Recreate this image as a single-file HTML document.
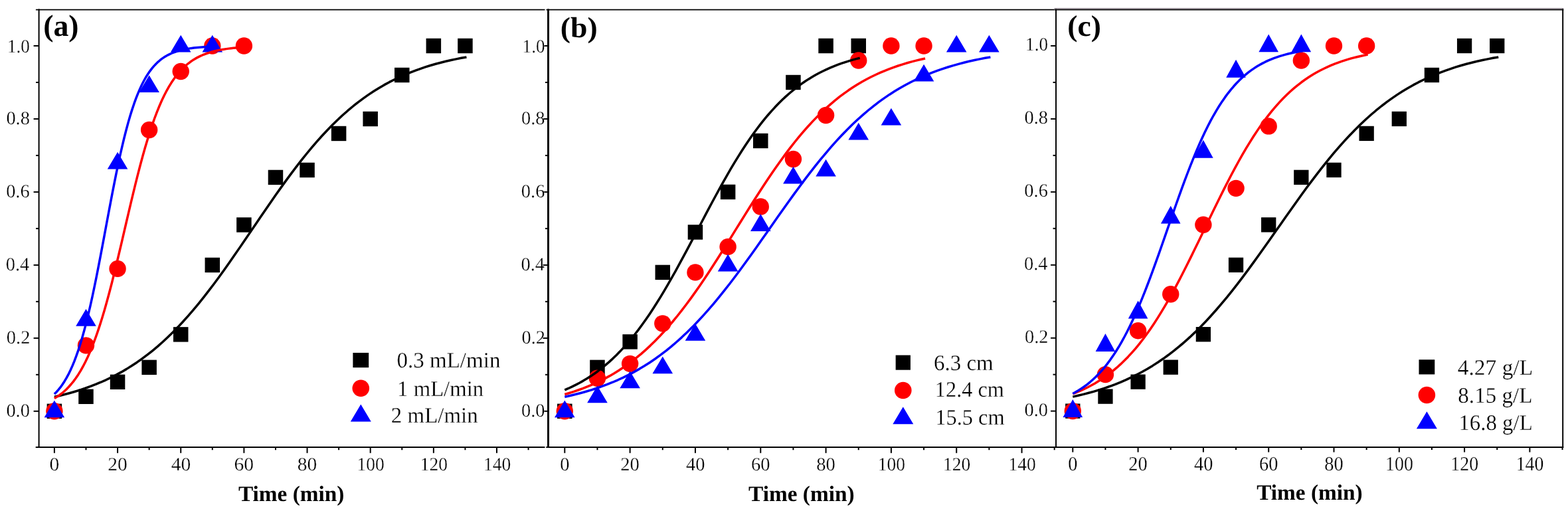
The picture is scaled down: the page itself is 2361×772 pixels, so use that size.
<!DOCTYPE html>
<html lang="en">
<head>
<meta charset="utf-8">
<title>Breakthrough curves</title>
<style>
html,body{margin:0;padding:0;background:#fff;}
body{width:2361px;height:772px;overflow:hidden;font-family:"Liberation Serif",serif;}
svg{display:block;}
svg text{text-rendering:geometricPrecision;}
svg text.r{stroke:#fff;stroke-width:0.28px;stroke-linejoin:round;}
</style>
</head>
<body>
<svg width="2361" height="772" viewBox="0 0 2361 772" font-family="'Liberation Serif', serif">
<rect width="2361" height="772" fill="#fff"/>
<g id="panel-a">
<rect x="70.65" y="607.6" width="22.5" height="22.4" fill="#000"/>
<rect x="118.23" y="585.61" width="22.5" height="22.4" fill="#000"/>
<rect x="165.81" y="563.62" width="22.5" height="22.4" fill="#000"/>
<rect x="213.39" y="541.62" width="22.5" height="22.4" fill="#000"/>
<rect x="260.97" y="492.14" width="22.5" height="22.4" fill="#000"/>
<rect x="308.55" y="387.68" width="22.5" height="22.4" fill="#000"/>
<rect x="356.13" y="327.2" width="22.5" height="22.4" fill="#000"/>
<rect x="403.71" y="255.73" width="22.5" height="22.4" fill="#000"/>
<rect x="451.29" y="244.73" width="22.5" height="22.4" fill="#000"/>
<rect x="498.87" y="189.75" width="22.5" height="22.4" fill="#000"/>
<rect x="546.45" y="167.76" width="22.5" height="22.4" fill="#000"/>
<rect x="594.03" y="101.78" width="22.5" height="22.4" fill="#000"/>
<rect x="641.61" y="57.8" width="22.5" height="22.4" fill="#000"/>
<rect x="689.19" y="57.8" width="22.5" height="22.4" fill="#000"/>
<circle cx="81.9" cy="618.8" r="12.7" fill="#f00"/>
<circle cx="129.48" cy="519.84" r="12.7" fill="#f00"/>
<circle cx="177.06" cy="404.38" r="12.7" fill="#f00"/>
<circle cx="224.64" cy="195.45" r="12.7" fill="#f00"/>
<circle cx="272.22" cy="107.49" r="12.7" fill="#f00"/>
<circle cx="319.8" cy="69" r="12.7" fill="#f00"/>
<circle cx="367.38" cy="69" r="12.7" fill="#f00"/>
<polygon points="81.9,602.5 97.2,628.3 66.6,628.3" fill="#00f"/>
<polygon points="129.48,465.05 144.78,490.85 114.18,490.85" fill="#00f"/>
<polygon points="177.06,228.64 192.36,254.44 161.76,254.44" fill="#00f"/>
<polygon points="224.64,113.18 239.94,138.98 209.34,138.98" fill="#00f"/>
<polygon points="272.22,52.7 287.52,78.5 256.92,78.5" fill="#00f"/>
<polygon points="319.8,52.7 335.1,78.5 304.5,78.5" fill="#00f"/>
<polyline points="81.9,597.29 89.66,595.5 97.41,593.57 105.17,591.5 112.93,589.26 120.68,586.84 128.44,584.25 136.2,581.45 143.95,578.45 151.71,575.23 159.47,571.78 167.22,568.08 174.98,564.12 182.74,559.89 190.49,555.37 198.25,550.55 206.01,545.42 213.76,539.97 221.52,534.19 229.28,528.07 237.03,521.59 244.79,514.76 252.55,507.56 260.31,500 268.06,492.08 275.82,483.79 283.58,475.14 291.33,466.15 299.09,456.81 306.85,447.15 314.6,437.19 322.36,426.94 330.12,416.42 337.87,405.68 345.63,394.73 353.39,383.62 361.14,372.37 368.9,361.02 376.66,349.61 384.41,338.19 392.17,326.78 399.93,315.43 407.68,304.18 415.44,293.07 423.2,282.12 430.95,271.37 438.71,260.86 446.47,250.61 454.22,240.65 461.98,230.99 469.74,221.65 477.49,212.66 485.25,204.01 493.01,195.72 500.76,187.8 508.52,180.23 516.28,173.04 524.03,166.21 531.79,159.73 539.55,153.61 547.3,147.82 555.06,142.38 562.82,137.25 570.58,132.43 578.33,127.91 586.09,123.68 593.85,119.72 601.6,116.02 609.36,112.57 617.12,109.35 624.87,106.35 632.63,103.55 640.39,100.96 648.14,98.54 655.9,96.3 663.66,94.23 671.41,92.3 679.17,90.51 686.93,88.86 694.68,87.33 702.44,85.91" fill="none" stroke="#000" stroke-width="3.5" stroke-linejoin="round" stroke-linecap="butt"/>
<polyline points="81.9,599.56 85.49,597.36 89.09,594.93 92.68,592.23 96.27,589.24 99.87,585.93 103.46,582.29 107.05,578.27 110.65,573.84 114.24,568.98 117.84,563.66 121.43,557.83 125.02,551.47 128.62,544.55 132.21,537.04 135.8,528.91 139.4,520.14 142.99,510.72 146.58,500.63 150.18,489.88 153.77,478.47 157.36,466.41 160.96,453.74 164.55,440.48 168.14,426.7 171.74,412.43 175.33,397.77 178.92,382.77 182.52,367.54 186.11,352.16 189.7,336.73 193.3,321.34 196.89,306.09 200.49,291.08 204.08,276.39 207.67,262.1 211.27,248.27 214.86,234.98 218.45,222.26 222.05,210.16 225.64,198.7 229.23,187.9 232.83,177.77 236.42,168.3 240.01,159.49 243.61,151.32 247.2,143.76 250.79,136.8 254.39,130.4 257.98,124.54 261.57,119.18 265.17,114.28 268.76,109.83 272.36,105.78 275.95,102.11 279.54,98.79 283.14,95.78 286.73,93.06 290.32,90.6 293.92,88.39 297.51,86.39 301.1,84.6 304.7,82.98 308.29,81.53 311.88,80.23 315.48,79.06 319.07,78.01 322.66,77.06 326.26,76.22 329.85,75.46 333.44,74.78 337.04,74.17 340.63,73.63 344.23,73.14 347.82,72.7 351.41,72.31 355.01,71.96 358.6,71.65 362.19,71.37 365.79,71.12 369.38,70.89" fill="none" stroke="#f00" stroke-width="3.5" stroke-linejoin="round" stroke-linecap="butt"/>
<polyline points="81.9,593.05 84.9,590.02 87.9,586.65 90.9,582.92 93.9,578.79 96.89,574.22 99.89,569.19 102.89,563.65 105.89,557.56 108.89,550.9 111.89,543.62 114.89,535.7 117.89,527.1 120.88,517.8 123.88,507.8 126.88,497.06 129.88,485.61 132.88,473.45 135.88,460.59 138.88,447.08 141.88,432.97 144.87,418.31 147.87,403.18 150.87,387.66 153.87,371.85 156.87,355.86 159.87,339.78 162.87,323.73 165.87,307.81 168.86,292.14 171.86,276.81 174.86,261.91 177.86,247.52 180.86,233.71 183.86,220.54 186.86,208.03 189.86,196.23 192.85,185.14 195.85,174.78 198.85,165.14 201.85,156.21 204.85,147.96 207.85,140.37 210.85,133.41 213.84,127.05 216.84,121.25 219.84,115.97 222.84,111.18 225.84,106.84 228.84,102.92 231.84,99.38 234.84,96.19 237.83,93.32 240.83,90.74 243.83,88.42 246.83,86.35 249.83,84.48 252.83,82.82 255.83,81.33 258.83,79.99 261.82,78.8 264.82,77.73 267.82,76.78 270.82,75.93 273.82,75.18 276.82,74.5 279.82,73.9 282.82,73.36 285.81,72.88 288.81,72.46 291.81,72.08 294.81,71.74 297.81,71.44 300.81,71.17 303.81,70.93 306.81,70.72 309.81,70.53 312.8,70.36 315.8,70.21 318.8,70.08 321.8,69.96" fill="none" stroke="#00f" stroke-width="3.5" stroke-linejoin="round" stroke-linecap="butt"/>
<g stroke="#000" stroke-width="2.0" fill="none"><line x1="58.6" y1="13.5" x2="58.6" y2="674" stroke-width="2.0"/><line x1="53.7" y1="673" x2="820.5" y2="673"/><line x1="53.9" y1="14.5" x2="820.5" y2="14.5" stroke-width="1.75"/><line x1="81.9" y1="673" x2="81.9" y2="681.8"/><line x1="129.48" y1="673" x2="129.48" y2="677.2"/><line x1="177.06" y1="673" x2="177.06" y2="681.8"/><line x1="224.64" y1="673" x2="224.64" y2="677.2"/><line x1="272.22" y1="673" x2="272.22" y2="681.8"/><line x1="319.8" y1="673" x2="319.8" y2="677.2"/><line x1="367.38" y1="673" x2="367.38" y2="681.8"/><line x1="414.96" y1="673" x2="414.96" y2="677.2"/><line x1="462.54" y1="673" x2="462.54" y2="681.8"/><line x1="510.12" y1="673" x2="510.12" y2="677.2"/><line x1="557.7" y1="673" x2="557.7" y2="681.8"/><line x1="605.28" y1="673" x2="605.28" y2="677.2"/><line x1="652.86" y1="673" x2="652.86" y2="681.8"/><line x1="700.44" y1="673" x2="700.44" y2="677.2"/><line x1="748.02" y1="673" x2="748.02" y2="681.8"/><line x1="795.6" y1="673" x2="795.6" y2="677.2"/><line x1="50.6" y1="618.8" x2="58.6" y2="618.8"/><line x1="54.1" y1="563.82" x2="58.6" y2="563.82"/><line x1="50.6" y1="508.84" x2="58.6" y2="508.84"/><line x1="54.1" y1="453.86" x2="58.6" y2="453.86"/><line x1="50.6" y1="398.88" x2="58.6" y2="398.88"/><line x1="54.1" y1="343.9" x2="58.6" y2="343.9"/><line x1="50.6" y1="288.92" x2="58.6" y2="288.92"/><line x1="54.1" y1="233.94" x2="58.6" y2="233.94"/><line x1="50.6" y1="178.96" x2="58.6" y2="178.96"/><line x1="54.1" y1="123.98" x2="58.6" y2="123.98"/><line x1="50.6" y1="69" x2="58.6" y2="69"/></g>
<g fill="#000"><text transform="translate(74.52,707.9) scale(1.0400,1)" font-size="28.4" class="r">0</text><text transform="translate(162.21,707.9) scale(1.0400,1)" font-size="28.4" class="r">20</text><text transform="translate(257.73,707.9) scale(1.0400,1)" font-size="28.4" class="r">40</text><text transform="translate(352.54,707.9) scale(1.0400,1)" font-size="28.4" class="r">60</text><text transform="translate(447.77,707.9) scale(1.0400,1)" font-size="28.4" class="r">80</text><text transform="translate(537.58,707.9) scale(0.9687,1)" font-size="28.4" class="r">100</text><text transform="translate(632.74,707.9) scale(0.9687,1)" font-size="28.4" class="r">120</text><text transform="translate(727.9,707.9) scale(0.9687,1)" font-size="28.4" class="r">140</text><text x="9.38" y="627" font-size="28.4" class="r">0.0</text><text x="9.87" y="517.04" font-size="28.4" class="r">0.2</text><text x="8.74" y="407.08" font-size="28.4" class="r">0.4</text><text x="9.15" y="297.12" font-size="28.4" class="r">0.6</text><text x="9.38" y="187.16" font-size="28.4" class="r">0.8</text><text transform="translate(10.92,78.7) scale(0.9554,1)" font-size="28.4" class="r">1.0</text></g>
<text transform="translate(65.19,54.3) scale(1.0048,1)" font-size="45.6" font-weight="bold">(a)</text>
<text transform="translate(358.98,753.6) scale(1.0097,1)" font-size="33" font-weight="bold">Time (min)</text>
<rect x="531.4" y="530.9" width="23.8" height="22.2" fill="#000"/>
<text transform="translate(597.44,553.4) scale(0.9954,1)" font-size="33.2" class="r">0.3 mL/min</text>
<circle cx="543.3" cy="584.2" r="12.8" fill="#f00"/>
<text transform="translate(598.12,595.8) scale(0.9863,1)" font-size="33.2" class="r">1 mL/min</text>
<polygon points="543.3,608.6 558.8,634.6 527.8,634.6" fill="#00f"/>
<text transform="translate(588.85,636) scale(0.9922,1)" font-size="33.2" class="r">2 mL/min</text>
</g>
<g id="panel-b">
<rect x="839.05" y="607.6" width="22.5" height="22.4" fill="#000"/>
<rect x="888.21" y="541.62" width="22.5" height="22.4" fill="#000"/>
<rect x="937.37" y="503.14" width="22.5" height="22.4" fill="#000"/>
<rect x="986.53" y="398.68" width="22.5" height="22.4" fill="#000"/>
<rect x="1035.69" y="338.2" width="22.5" height="22.4" fill="#000"/>
<rect x="1084.85" y="277.72" width="22.5" height="22.4" fill="#000"/>
<rect x="1134.01" y="200.75" width="22.5" height="22.4" fill="#000"/>
<rect x="1183.17" y="112.78" width="22.5" height="22.4" fill="#000"/>
<rect x="1232.33" y="57.8" width="22.5" height="22.4" fill="#000"/>
<rect x="1281.49" y="57.8" width="22.5" height="22.4" fill="#000"/>
<circle cx="850.3" cy="618.8" r="12.7" fill="#f00"/>
<circle cx="899.46" cy="569.32" r="12.7" fill="#f00"/>
<circle cx="948.62" cy="547.33" r="12.7" fill="#f00"/>
<circle cx="997.78" cy="486.85" r="12.7" fill="#f00"/>
<circle cx="1046.94" cy="409.88" r="12.7" fill="#f00"/>
<circle cx="1096.1" cy="371.39" r="12.7" fill="#f00"/>
<circle cx="1145.26" cy="310.91" r="12.7" fill="#f00"/>
<circle cx="1194.42" cy="239.44" r="12.7" fill="#f00"/>
<circle cx="1243.58" cy="173.46" r="12.7" fill="#f00"/>
<circle cx="1292.74" cy="90.99" r="12.7" fill="#f00"/>
<circle cx="1341.9" cy="69" r="12.7" fill="#f00"/>
<circle cx="1391.06" cy="69" r="12.7" fill="#f00"/>
<polygon points="850.3,602.5 865.6,628.3 835,628.3" fill="#00f"/>
<polygon points="899.46,580.51 914.76,606.31 884.16,606.31" fill="#00f"/>
<polygon points="948.62,558.52 963.92,584.32 933.32,584.32" fill="#00f"/>
<polygon points="997.78,536.52 1013.08,562.32 982.48,562.32" fill="#00f"/>
<polygon points="1046.94,487.04 1062.24,512.84 1031.64,512.84" fill="#00f"/>
<polygon points="1096.1,382.58 1111.4,408.38 1080.8,408.38" fill="#00f"/>
<polygon points="1145.26,322.1 1160.56,347.9 1129.96,347.9" fill="#00f"/>
<polygon points="1194.42,250.63 1209.72,276.43 1179.12,276.43" fill="#00f"/>
<polygon points="1243.58,239.63 1258.88,265.43 1228.28,265.43" fill="#00f"/>
<polygon points="1292.74,184.65 1308.04,210.45 1277.44,210.45" fill="#00f"/>
<polygon points="1341.9,162.66 1357.2,188.46 1326.6,188.46" fill="#00f"/>
<polygon points="1391.06,96.68 1406.36,122.48 1375.76,122.48" fill="#00f"/>
<polygon points="1440.22,52.7 1455.52,78.5 1424.92,78.5" fill="#00f"/>
<polygon points="1489.38,52.7 1504.68,78.5 1474.08,78.5" fill="#00f"/>
<polyline points="850.3,586.86 855.86,584.47 861.41,581.91 866.97,579.17 872.52,576.24 878.08,573.12 883.63,569.79 889.19,566.25 894.74,562.47 900.3,558.46 905.86,554.2 911.41,549.69 916.97,544.9 922.52,539.84 928.08,534.49 933.63,528.85 939.19,522.91 944.74,516.66 950.3,510.11 955.85,503.24 961.41,496.06 966.97,488.56 972.52,480.76 978.08,472.65 983.63,464.25 989.19,455.56 994.74,446.59 1000.3,437.36 1005.85,427.88 1011.41,418.18 1016.96,408.28 1022.52,398.2 1028.08,387.96 1033.63,377.59 1039.19,367.13 1044.74,356.6 1050.3,346.03 1055.85,335.45 1061.41,324.9 1066.96,314.41 1072.52,304 1078.08,293.71 1083.63,283.56 1089.19,273.58 1094.74,263.79 1100.3,254.23 1105.85,244.9 1111.41,235.82 1116.96,227.01 1122.52,218.49 1128.08,210.26 1133.63,202.34 1139.19,194.72 1144.74,187.41 1150.3,180.42 1155.85,173.74 1161.41,167.37 1166.96,161.31 1172.52,155.55 1178.07,150.08 1183.63,144.9 1189.19,140.01 1194.74,135.38 1200.3,131.02 1205.85,126.91 1211.41,123.04 1216.96,119.41 1222.52,115.99 1228.07,112.79 1233.63,109.79 1239.18,106.97 1244.74,104.34 1250.3,101.88 1255.85,99.58 1261.41,97.43 1266.96,95.43 1272.52,93.56 1278.07,91.81 1283.63,90.19 1289.18,88.68 1294.74,87.27" fill="none" stroke="#000" stroke-width="3.5" stroke-linejoin="round" stroke-linecap="butt"/>
<polyline points="850.3,593.46 857.08,591.47 863.87,589.33 870.65,587.03 877.44,584.57 884.22,581.92 891.01,579.09 897.79,576.06 904.58,572.82 911.36,569.36 918.14,565.66 924.93,561.72 931.71,557.53 938.5,553.07 945.28,548.32 952.07,543.29 958.85,537.96 965.64,532.33 972.42,526.38 979.21,520.1 985.99,513.5 992.77,506.57 999.56,499.3 1006.34,491.7 1013.13,483.76 1019.91,475.5 1026.7,466.92 1033.48,458.03 1040.27,448.84 1047.05,439.37 1053.84,429.63 1060.62,419.65 1067.4,409.45 1074.19,399.05 1080.97,388.48 1087.76,377.78 1094.54,366.97 1101.33,356.09 1108.11,345.17 1114.9,334.25 1121.68,323.36 1128.46,312.53 1135.25,301.8 1142.03,291.2 1148.82,280.76 1155.6,270.51 1162.39,260.48 1169.17,250.68 1175.96,241.14 1182.74,231.89 1189.53,222.92 1196.31,214.27 1203.09,205.93 1209.88,197.92 1216.66,190.24 1223.45,182.9 1230.23,175.89 1237.02,169.21 1243.8,162.86 1250.59,156.83 1257.37,151.12 1264.15,145.72 1270.94,140.62 1277.72,135.82 1284.51,131.29 1291.29,127.03 1298.08,123.03 1304.86,119.28 1311.65,115.77 1318.43,112.47 1325.22,109.4 1332,106.52 1338.78,103.83 1345.57,101.33 1352.35,98.99 1359.14,96.82 1365.92,94.79 1372.71,92.91 1379.49,91.15 1386.28,89.52 1393.06,88.01" fill="none" stroke="#f00" stroke-width="3.5" stroke-linejoin="round" stroke-linecap="butt"/>
<polyline points="850.3,597.29 858.31,595.5 866.33,593.57 874.34,591.5 882.35,589.26 890.37,586.84 898.38,584.25 906.39,581.46 914.41,578.46 922.42,575.24 930.43,571.78 938.45,568.08 946.46,564.12 954.48,559.89 962.49,555.37 970.5,550.56 978.52,545.43 986.53,539.98 994.54,534.2 1002.56,528.08 1010.57,521.61 1018.58,514.77 1026.6,507.58 1034.61,500.02 1042.62,492.1 1050.64,483.81 1058.65,475.17 1066.66,466.17 1074.68,456.84 1082.69,447.18 1090.7,437.22 1098.72,426.97 1106.73,416.46 1114.75,405.72 1122.76,394.77 1130.77,383.66 1138.79,372.41 1146.8,361.06 1154.81,349.66 1162.83,338.23 1170.84,326.83 1178.85,315.48 1186.87,304.23 1194.88,293.11 1202.89,282.17 1210.91,271.42 1218.92,260.91 1226.93,250.66 1234.95,240.7 1242.96,231.04 1250.97,221.7 1258.99,212.7 1267,204.05 1275.02,195.76 1283.03,187.84 1291.04,180.28 1299.06,173.08 1307.07,166.25 1315.08,159.77 1323.1,153.64 1331.11,147.86 1339.12,142.41 1347.14,137.28 1355.15,132.46 1363.16,127.94 1371.18,123.71 1379.19,119.75 1387.2,116.04 1395.22,112.59 1403.23,109.37 1411.24,106.37 1419.26,103.57 1427.27,100.98 1435.29,98.56 1443.3,96.32 1451.31,94.24 1459.33,92.31 1467.34,90.53 1475.35,88.87 1483.37,87.34 1491.38,85.92" fill="none" stroke="#00f" stroke-width="3.5" stroke-linejoin="round" stroke-linecap="butt"/>
<g stroke="#000" stroke-width="2.0" fill="none"><line x1="825.5" y1="13.5" x2="825.5" y2="674" stroke-width="3.0"/><line x1="822.3" y1="673" x2="1588" y2="673"/><line x1="822.5" y1="14.5" x2="1587.5" y2="14.5" stroke-width="1.75"/><line x1="850.3" y1="673" x2="850.3" y2="681.8"/><line x1="899.46" y1="673" x2="899.46" y2="677.2"/><line x1="948.62" y1="673" x2="948.62" y2="681.8"/><line x1="997.78" y1="673" x2="997.78" y2="677.2"/><line x1="1046.94" y1="673" x2="1046.94" y2="681.8"/><line x1="1096.1" y1="673" x2="1096.1" y2="677.2"/><line x1="1145.26" y1="673" x2="1145.26" y2="681.8"/><line x1="1194.42" y1="673" x2="1194.42" y2="677.2"/><line x1="1243.58" y1="673" x2="1243.58" y2="681.8"/><line x1="1292.74" y1="673" x2="1292.74" y2="677.2"/><line x1="1341.9" y1="673" x2="1341.9" y2="681.8"/><line x1="1391.06" y1="673" x2="1391.06" y2="677.2"/><line x1="1440.22" y1="673" x2="1440.22" y2="681.8"/><line x1="1489.38" y1="673" x2="1489.38" y2="677.2"/><line x1="1538.54" y1="673" x2="1538.54" y2="681.8"/><line x1="1587.7" y1="673" x2="1587.7" y2="677.2"/><line x1="817.5" y1="618.8" x2="825.5" y2="618.8"/><line x1="821" y1="563.82" x2="825.5" y2="563.82"/><line x1="817.5" y1="508.84" x2="825.5" y2="508.84"/><line x1="821" y1="453.86" x2="825.5" y2="453.86"/><line x1="817.5" y1="398.88" x2="825.5" y2="398.88"/><line x1="821" y1="343.9" x2="825.5" y2="343.9"/><line x1="817.5" y1="288.92" x2="825.5" y2="288.92"/><line x1="821" y1="233.94" x2="825.5" y2="233.94"/><line x1="817.5" y1="178.96" x2="825.5" y2="178.96"/><line x1="821" y1="123.98" x2="825.5" y2="123.98"/><line x1="817.5" y1="69" x2="825.5" y2="69"/></g>
<g fill="#000"><text transform="translate(843.16,707.9) scale(1.0050,1)" font-size="28.4" class="r">0</text><text transform="translate(934.27,707.9) scale(1.0050,1)" font-size="28.4" class="r">20</text><text transform="translate(1032.93,707.9) scale(1.0050,1)" font-size="28.4" class="r">40</text><text transform="translate(1130.92,707.9) scale(1.0050,1)" font-size="28.4" class="r">60</text><text transform="translate(1229.31,707.9) scale(1.0050,1)" font-size="28.4" class="r">80</text><text transform="translate(1321.78,707.9) scale(0.9687,1)" font-size="28.4" class="r">100</text><text transform="translate(1420.1,707.9) scale(0.9687,1)" font-size="28.4" class="r">120</text><text transform="translate(1518.42,707.9) scale(0.9687,1)" font-size="28.4" class="r">140</text><text x="785.08" y="626.7" font-size="28.4" class="r">0.0</text><text x="785.57" y="516.74" font-size="28.4" class="r">0.2</text><text x="784.44" y="406.78" font-size="28.4" class="r">0.4</text><text x="784.85" y="296.82" font-size="28.4" class="r">0.6</text><text x="785.08" y="186.86" font-size="28.4" class="r">0.8</text><text transform="translate(786.62,78.7) scale(0.9554,1)" font-size="28.4" class="r">1.0</text></g>
<text transform="translate(843.79,55.8) scale(1.0474,1)" font-size="43.6" font-weight="bold">(b)</text>
<text transform="translate(1127.08,753.6) scale(1.0097,1)" font-size="33" font-weight="bold">Time (min)</text>
<rect x="1348.65" y="534.5" width="22.3" height="22.2" fill="#000"/>
<text transform="translate(1405.98,556.6) scale(0.9942,1)" font-size="33.2" class="r">6.3 cm</text>
<circle cx="1359.8" cy="587.5" r="12.8" fill="#f00"/>
<text transform="translate(1407.86,597.4) scale(0.9727,1)" font-size="33.2" class="r">12.4 cm</text>
<polygon points="1359.8,612.3 1375.3,638.3 1344.3,638.3" fill="#00f"/>
<text transform="translate(1408.25,639.2) scale(0.9766,1)" font-size="33.2" class="r">15.5 cm</text>
</g>
<g id="panel-c">
<rect x="1604.15" y="607.45" width="22.3" height="22.3" fill="#000"/>
<rect x="1653.3" y="585.47" width="22.3" height="22.3" fill="#000"/>
<rect x="1702.45" y="563.48" width="22.3" height="22.3" fill="#000"/>
<rect x="1751.6" y="541.5" width="22.3" height="22.3" fill="#000"/>
<rect x="1800.75" y="492.03" width="22.3" height="22.3" fill="#000"/>
<rect x="1849.9" y="387.61" width="22.3" height="22.3" fill="#000"/>
<rect x="1899.05" y="327.15" width="22.3" height="22.3" fill="#000"/>
<rect x="1948.2" y="255.71" width="22.3" height="22.3" fill="#000"/>
<rect x="1997.35" y="244.71" width="22.3" height="22.3" fill="#000"/>
<rect x="2046.5" y="189.75" width="22.3" height="22.3" fill="#000"/>
<rect x="2095.65" y="167.77" width="22.3" height="22.3" fill="#000"/>
<rect x="2144.8" y="101.82" width="22.3" height="22.3" fill="#000"/>
<rect x="2193.95" y="57.85" width="22.3" height="22.3" fill="#000"/>
<rect x="2243.1" y="57.85" width="22.3" height="22.3" fill="#000"/>
<circle cx="1615.3" cy="618.6" r="12.7" fill="#f00"/>
<circle cx="1664.45" cy="563.64" r="12.7" fill="#f00"/>
<circle cx="1713.6" cy="497.69" r="12.7" fill="#f00"/>
<circle cx="1762.75" cy="442.73" r="12.7" fill="#f00"/>
<circle cx="1811.9" cy="338.3" r="12.7" fill="#f00"/>
<circle cx="1861.05" cy="283.34" r="12.7" fill="#f00"/>
<circle cx="1910.2" cy="189.91" r="12.7" fill="#f00"/>
<circle cx="1959.35" cy="90.98" r="12.7" fill="#f00"/>
<circle cx="2008.5" cy="69" r="12.7" fill="#f00"/>
<circle cx="2057.65" cy="69" r="12.7" fill="#f00"/>
<polygon points="1615.3,601 1630.1,627.9 1600.5,627.9" fill="#00f"/>
<polygon points="1664.45,502.07 1679.25,528.97 1649.65,528.97" fill="#00f"/>
<polygon points="1713.6,452.61 1728.4,479.51 1698.8,479.51" fill="#00f"/>
<polygon points="1762.75,309.71 1777.55,336.61 1747.95,336.61" fill="#00f"/>
<polygon points="1811.9,210.78 1826.7,237.68 1797.1,237.68" fill="#00f"/>
<polygon points="1861.05,89.87 1875.85,116.77 1846.25,116.77" fill="#00f"/>
<polygon points="1910.2,51.4 1925,78.3 1895.4,78.3" fill="#00f"/>
<polygon points="1959.35,51.4 1974.15,78.3 1944.55,78.3" fill="#00f"/>
<polyline points="1615.3,597.1 1623.31,595.31 1631.32,593.38 1639.34,591.31 1647.35,589.07 1655.36,586.66 1663.37,584.06 1671.38,581.27 1679.39,578.27 1687.41,575.05 1695.42,571.6 1703.43,567.9 1711.44,563.94 1719.45,559.71 1727.47,555.2 1735.48,550.38 1743.49,545.26 1751.5,539.81 1759.51,534.03 1767.53,527.91 1775.54,521.44 1783.55,514.61 1791.56,507.42 1799.57,499.87 1807.59,491.94 1815.6,483.66 1823.61,475.02 1831.62,466.03 1839.63,456.7 1847.64,447.04 1855.66,437.08 1863.67,426.84 1871.68,416.33 1879.69,405.59 1887.7,394.65 1895.72,383.54 1903.73,372.3 1911.74,360.96 1919.75,349.56 1927.76,338.13 1935.77,326.73 1943.79,315.39 1951.8,304.14 1959.81,293.03 1967.82,282.09 1975.83,271.35 1983.85,260.84 1991.86,250.6 1999.87,240.63 2007.88,230.98 2015.89,221.64 2023.91,212.65 2031.92,204.01 2039.93,195.72 2047.94,187.79 2055.95,180.24 2063.97,173.04 2071.98,166.21 2079.99,159.74 2088,153.61 2096.01,147.83 2104.02,142.38 2112.04,137.26 2120.05,132.44 2128.06,127.92 2136.07,123.69 2144.08,119.73 2152.1,116.03 2160.11,112.57 2168.12,109.35 2176.13,106.35 2184.14,103.56 2192.15,100.96 2200.17,98.55 2208.18,96.31 2216.19,94.23 2224.2,92.3 2232.21,90.52 2240.23,88.86 2248.24,87.33 2256.25,85.91" fill="none" stroke="#000" stroke-width="3.5" stroke-linejoin="round" stroke-linecap="butt"/>
<polyline points="1615.3,592.66 1620.85,590.5 1626.41,588.18 1631.96,585.67 1637.52,582.98 1643.07,580.07 1648.63,576.95 1654.18,573.61 1659.73,570.01 1665.29,566.16 1670.84,562.04 1676.4,557.64 1681.95,552.94 1687.51,547.92 1693.06,542.59 1698.62,536.92 1704.17,530.91 1709.72,524.54 1715.28,517.82 1720.83,510.72 1726.39,503.25 1731.94,495.42 1737.5,487.2 1743.05,478.63 1748.61,469.69 1754.16,460.4 1759.71,450.77 1765.27,440.83 1770.82,430.58 1776.38,420.06 1781.93,409.3 1787.49,398.31 1793.04,387.14 1798.59,375.82 1804.15,364.4 1809.7,352.89 1815.26,341.36 1820.81,329.84 1826.37,318.36 1831.92,306.97 1837.47,295.71 1843.03,284.62 1848.58,273.72 1854.14,263.05 1859.69,252.65 1865.25,242.53 1870.8,232.72 1876.36,223.23 1881.91,214.09 1887.46,205.3 1893.02,196.88 1898.57,188.82 1904.13,181.14 1909.68,173.83 1915.24,166.9 1920.79,160.32 1926.34,154.11 1931.9,148.24 1937.45,142.71 1943.01,137.52 1948.56,132.64 1954.12,128.06 1959.67,123.78 1965.23,119.78 1970.78,116.04 1976.33,112.55 1981.89,109.3 1987.44,106.27 1993,103.46 1998.55,100.85 2004.11,98.42 2009.66,96.17 2015.21,94.08 2020.77,92.14 2026.32,90.35 2031.88,88.69 2037.43,87.16 2042.99,85.74 2048.54,84.43 2054.1,83.22 2059.65,82.1" fill="none" stroke="#f00" stroke-width="3.5" stroke-linejoin="round" stroke-linecap="butt"/>
<polyline points="1615.3,592.44 1619.63,590.08 1623.95,587.53 1628.28,584.76 1632.6,581.77 1636.93,578.53 1641.25,575.03 1645.58,571.25 1649.9,567.17 1654.23,562.79 1658.56,558.08 1662.88,553.02 1667.21,547.6 1671.53,541.81 1675.86,535.62 1680.18,529.03 1684.51,522.02 1688.84,514.59 1693.16,506.73 1697.49,498.44 1701.81,489.71 1706.14,480.56 1710.46,470.98 1714.79,460.99 1719.12,450.6 1723.44,439.85 1727.77,428.74 1732.09,417.33 1736.42,405.63 1740.74,393.69 1745.07,381.56 1749.39,369.27 1753.72,356.88 1758.05,344.43 1762.37,331.98 1766.7,319.58 1771.02,307.28 1775.35,295.13 1779.67,283.17 1784,271.44 1788.32,260 1792.65,248.86 1796.98,238.07 1801.3,227.65 1805.63,217.62 1809.95,207.99 1814.28,198.79 1818.6,190.02 1822.93,181.68 1827.26,173.78 1831.58,166.31 1835.91,159.26 1840.23,152.63 1844.56,146.4 1848.88,140.57 1853.21,135.11 1857.53,130.02 1861.86,125.27 1866.19,120.85 1870.51,116.75 1874.84,112.94 1879.16,109.42 1883.49,106.15 1887.81,103.13 1892.14,100.34 1896.47,97.77 1900.79,95.39 1905.12,93.21 1909.44,91.19 1913.77,89.34 1918.09,87.64 1922.42,86.07 1926.74,84.64 1931.07,83.32 1935.4,82.11 1939.72,80.99 1944.05,79.98 1948.37,79.04 1952.7,78.19 1957.02,77.4 1961.35,76.68" fill="none" stroke="#00f" stroke-width="3.5" stroke-linejoin="round" stroke-linecap="butt"/>
<g stroke="#000" stroke-width="2.0" fill="none"><line x1="1590.05" y1="13.5" x2="1590.05" y2="674" stroke-width="2.0"/><line x1="1587.5" y1="12.9" x2="2354.3" y2="12.9" stroke="#7d707d" stroke-width="1.2"/><line x1="1587.5" y1="673" x2="2354.3" y2="673"/><line x1="1587.5" y1="14.5" x2="2354.3" y2="14.5" stroke-width="1.75"/><line x1="2353.2" y1="13.5" x2="2353.2" y2="674"/><line x1="1615.3" y1="673" x2="1615.3" y2="680.5"/><line x1="1664.45" y1="673" x2="1664.45" y2="677"/><line x1="1713.6" y1="673" x2="1713.6" y2="680.5"/><line x1="1762.75" y1="673" x2="1762.75" y2="677"/><line x1="1811.9" y1="673" x2="1811.9" y2="680.5"/><line x1="1861.05" y1="673" x2="1861.05" y2="677"/><line x1="1910.2" y1="673" x2="1910.2" y2="680.5"/><line x1="1959.35" y1="673" x2="1959.35" y2="677"/><line x1="2008.5" y1="673" x2="2008.5" y2="680.5"/><line x1="2057.65" y1="673" x2="2057.65" y2="677"/><line x1="2106.8" y1="673" x2="2106.8" y2="680.5"/><line x1="2155.95" y1="673" x2="2155.95" y2="677"/><line x1="2205.1" y1="673" x2="2205.1" y2="680.5"/><line x1="2254.25" y1="673" x2="2254.25" y2="677"/><line x1="2303.4" y1="673" x2="2303.4" y2="680.5"/><line x1="2352.55" y1="673" x2="2352.55" y2="677"/><line x1="1582.05" y1="618.6" x2="1590.05" y2="618.6"/><line x1="1585.55" y1="563.64" x2="1590.05" y2="563.64"/><line x1="1582.05" y1="508.68" x2="1590.05" y2="508.68"/><line x1="1585.55" y1="453.72" x2="1590.05" y2="453.72"/><line x1="1582.05" y1="398.76" x2="1590.05" y2="398.76"/><line x1="1585.55" y1="343.8" x2="1590.05" y2="343.8"/><line x1="1582.05" y1="288.84" x2="1590.05" y2="288.84"/><line x1="1585.55" y1="233.88" x2="1590.05" y2="233.88"/><line x1="1582.05" y1="178.92" x2="1590.05" y2="178.92"/><line x1="1585.55" y1="123.96" x2="1590.05" y2="123.96"/><line x1="1582.05" y1="69" x2="1590.05" y2="69"/></g>
<g fill="#000"><text transform="translate(1608.19,707.7) scale(0.9350,1)" font-size="30.4" class="r">0</text><text transform="translate(1699.3,707.7) scale(0.9350,1)" font-size="30.4" class="r">20</text><text transform="translate(1797.95,707.7) scale(0.9350,1)" font-size="30.4" class="r">40</text><text transform="translate(1895.92,707.7) scale(0.9350,1)" font-size="30.4" class="r">60</text><text transform="translate(1994.29,707.7) scale(0.9350,1)" font-size="30.4" class="r">80</text><text transform="translate(2086.05,707.7) scale(0.9169,1)" font-size="30.4" class="r">100</text><text transform="translate(2184.35,707.7) scale(0.9169,1)" font-size="30.4" class="r">120</text><text transform="translate(2282.65,707.7) scale(0.9169,1)" font-size="30.4" class="r">140</text><text x="1542.58" y="625.9" font-size="28.4" class="r">0.0</text><text x="1543.07" y="515.98" font-size="28.4" class="r">0.2</text><text x="1541.94" y="406.06" font-size="28.4" class="r">0.4</text><text x="1542.35" y="296.14" font-size="28.4" class="r">0.6</text><text x="1542.58" y="186.22" font-size="28.4" class="r">0.8</text><text transform="translate(1544.12,76.3) scale(0.9554,1)" font-size="28.4" class="r">1.0</text></g>
<text transform="translate(1607.29,53.9) scale(1.0200,1)" font-size="44.8" font-weight="bold">(c)</text>
<text transform="translate(1892.18,752.1) scale(1.0097,1)" font-size="33" font-weight="bold">Time (min)</text>
<rect x="2136.5" y="541.2" width="23.8" height="22.2" fill="#000"/>
<text transform="translate(2194.75,564.1) scale(1.0085,1)" font-size="33.2" class="r">4.27 g/L</text>
<circle cx="2148.4" cy="594.5" r="12.8" fill="#f00"/>
<text transform="translate(2195.34,605.9) scale(0.9959,1)" font-size="33.2" class="r">8.15 g/L</text>
<polygon points="2148.4,619.2 2163.9,645.2 2132.9,645.2" fill="#00f"/>
<text transform="translate(2196.41,646.7) scale(0.9899,1)" font-size="33.2" class="r">16.8 g/L</text>
</g>
</svg>
</body>
</html>
